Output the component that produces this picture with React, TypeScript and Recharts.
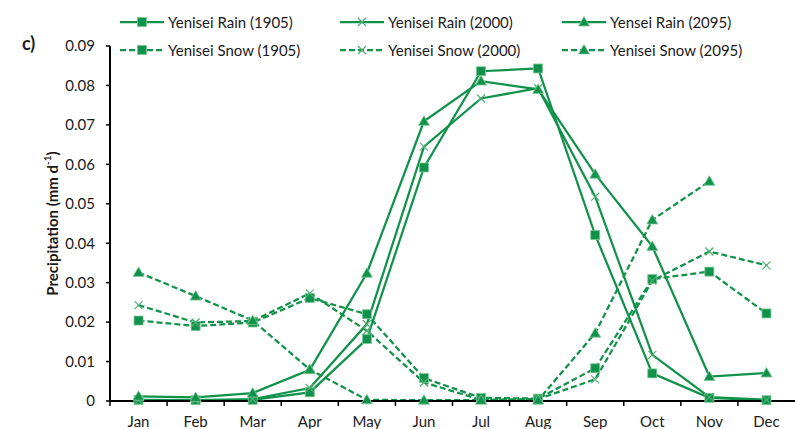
import React from 'react';
import { LineChart, Line, XAxis, YAxis, Legend } from 'recharts';

// monthly mean precipitation, mm d-1
const months = ['Jan', 'Feb', 'Mar', 'Apr', 'May', 'Jun', 'Jul', 'Aug', 'Sep', 'Oct', 'Nov', 'Dec'];
const rain1905 = [0.0003, 0.0002, 0.0003, 0.0022, 0.0157, 0.0592, 0.0836, 0.0843, 0.0421, 0.007, 0.0008, 0.0002];
const rain2000 = [0.0002, 0.0002, 0.0005, 0.0033, 0.0195, 0.0645, 0.0767, 0.0793, 0.0518, 0.0117, 0.001, 0.0003];
const rain2095 = [0.0012, 0.0009, 0.002, 0.0079, 0.0324, 0.0709, 0.0811, 0.079, 0.0575, 0.0392, 0.0062, 0.0071];
const snow1905 = [0.0204, 0.019, 0.0199, 0.0261, 0.022, 0.0058, 0.0008, 0.0006, 0.0083, 0.0309, 0.0328, 0.0222];
const snow2000 = [0.0243, 0.0199, 0.0203, 0.0273, 0.0178, 0.0047, 0.0003, 0.0005, 0.0055, 0.0305, 0.0379, 0.0344];
const snow2095 = [0.0326, 0.0266, 0.0204, 0.008, 0.0003, 0.0002, 0.0002, 0.0002, 0.0172, 0.0459, 0.0557, null];
const yTicks = [0, 0.01, 0.02, 0.03, 0.04, 0.05, 0.06, 0.07, 0.08, 0.09];

type Shape = 'square' | 'cross' | 'triangle';

const series: { key: string; name: string; values: (number | null)[]; shape: Shape; dashed: boolean }[] = [
    { key: 'rain1905', name: 'Yenisei Rain (1905)', values: rain1905, shape: 'square', dashed: false },
    { key: 'rain2000', name: 'Yenisei Rain (2000)', values: rain2000, shape: 'cross', dashed: false },
    { key: 'rain2095', name: 'Yensei Rain (2095)', values: rain2095, shape: 'triangle', dashed: false },
    { key: 'snow1905', name: 'Yenisei Snow (1905)', values: snow1905, shape: 'square', dashed: true },
    { key: 'snow2000', name: 'Yenisei Snow (2000)', values: snow2000, shape: 'cross', dashed: true },
    { key: 'snow2095', name: 'Yenisei Snow (2095)', values: snow2095, shape: 'triangle', dashed: true },
];

const data = months.map((month, i) => {
    const row: Record<string, string | number | null> = { month };
    series.forEach((s) => {
        row[s.key] = s.values[i];
    });
    return row;
});

const GREEN = '#11924a';
const FONT = 'Lato, "Open Sans", sans-serif';

function Marker({ cx, cy, shape }: { cx?: number; cy?: number; shape: Shape }) {
    if (cx == null || cy == null || isNaN(cx) || isNaN(cy)) return <g />;
    if (shape === 'square') {
        return <rect x={cx - 4.5} y={cy - 4.5} width={9} height={9} fill={GREEN} stroke="#7cc897" strokeWidth={0.8} />;
    }
    if (shape === 'triangle') {
        return (
            <polygon
                points={`${cx},${cy - 5.5} ${cx + 5.5},${cy + 4} ${cx - 5.5},${cy + 4}`}
                fill={GREEN}
                stroke="#7cc897"
                strokeWidth={0.8}
            />
        );
    }
    return (
        <g stroke="#4fae72" strokeWidth={1.2}>
            <line x1={cx - 4} y1={cy - 4} x2={cx + 4} y2={cy + 4} />
            <line x1={cx - 4} y1={cy + 4} x2={cx + 4} y2={cy - 4} />
        </g>
    );
}

// tick marks sit between the months, labels under each month
const MonthTick = (props: any) => {
    const { x, y, payload } = props;
    const half = payload?.offset || 28.5;
    return (
        <g>
            <line x1={x - half} x2={x - half} y1={y} y2={y + 5} stroke="#000" strokeWidth={1.5} />
            <text x={x} y={y + 26} textAnchor="middle" fontSize={15} fill="#1a1a1a" fontFamily={FONT}>
                {payload.value}
            </text>
        </g>
    );
};

const YLabel = (props: any) => {
    const vb = props.viewBox || { x: 0, y: 46, width: 110, height: 355 };
    const cx = vb.x + 52;
    const cy = vb.y + vb.height / 2;
    return (
        <text
            x={cx}
            y={cy}
            transform={`rotate(-90, ${cx}, ${cy})`}
            textAnchor="middle"
            dominantBaseline="central"
            fontSize={15}
            fontWeight="bold"
            fill="#1a1a1a"
            fontFamily={FONT}
        >
            Precipitation (mm d
            <tspan dy={-5} fontSize={10}>-1</tspan>
            <tspan dy={5}>)</tspan>
        </text>
    );
};

function LegendIcon({ shape, dashed }: { shape: Shape; dashed: boolean }) {
    return (
        <svg width={44} height={14} style={{ display: 'block' }}>
            <line x1={0} x2={44} y1={7} y2={7} stroke={GREEN} strokeWidth={2.25} strokeDasharray={dashed ? '6 3' : undefined} />
            <Marker cx={22} cy={7} shape={shape} />
        </svg>
    );
}

const renderLegend = () => (
    <div
        style={{
            display: 'grid',
            gridTemplateColumns: '220px 222px 230px',
            gridAutoRows: '28px',
            paddingLeft: 120,
            paddingTop: 8,
            fontFamily: FONT,
            fontSize: 15,
            color: '#1a1a1a',
        }}
    >
        {series.map((s) => (
            <div key={s.key} style={{ display: 'flex', alignItems: 'center', gap: 4, whiteSpace: 'nowrap' }}>
                <LegendIcon shape={s.shape} dashed={s.dashed} />
                <span>{s.name}</span>
            </div>
        ))}
    </div>
);

export default function App() {
    return (
        <div style={{ position: 'fixed', left: 0, top: 0, width: 795, height: 429, background: '#fff' }}>
            <div
                style={{
                    position: 'absolute',
                    left: 22,
                    top: 32,
                    fontFamily: FONT,
                    fontWeight: 'bold',
                    fontSize: 18,
                    color: '#1a1a1a',
                }}
            >
                c)
            </div>
            <LineChart width={795} height={429} data={data} margin={{ top: 46, right: 0, left: 0, bottom: 0 }}>
                <XAxis
                    dataKey="month"
                    scale="band"
                    height={28}
                    tickLine={false}
                    tickSize={0}
                    tickMargin={0}
                    interval={0}
                    axisLine={{ stroke: '#000', strokeWidth: 2 }}
                    tick={<MonthTick />}
                />
                <YAxis
                    width={110}
                    domain={[0, 0.09]}
                    ticks={yTicks}
                    interval={0}
                    tickSize={4}
                    tickMargin={11}
                    tickLine={{ stroke: '#000', strokeWidth: 1.5 }}
                    axisLine={{ stroke: '#000', strokeWidth: 2 }}
                    tick={{ fontSize: 15, fill: '#1a1a1a', fontFamily: FONT }}
                    tickFormatter={(v: number) => (v === 0 ? '0' : v.toFixed(2))}
                    label={{ content: <YLabel /> }}
                />
                <Legend
                    layout="horizontal"
                    verticalAlign="middle"
                    align="center"
                    content={renderLegend}
                    wrapperStyle={{ top: 0, left: 0, width: 795 }}
                />
                {series.map((s) => (
                    <Line
                        key={s.key}
                        dataKey={s.key}
                        name={s.name}
                        type="linear"
                        stroke={GREEN}
                        strokeWidth={2.25}
                        strokeDasharray={s.dashed ? '6 3' : undefined}
                        dot={(p: any) => <Marker key={`${s.key}-${p.index}`} cx={p.cx} cy={p.cy} shape={s.shape} />}
                        activeDot={false}
                        isAnimationActive={false}
                    />
                ))}
            </LineChart>
        </div>
    );
}
